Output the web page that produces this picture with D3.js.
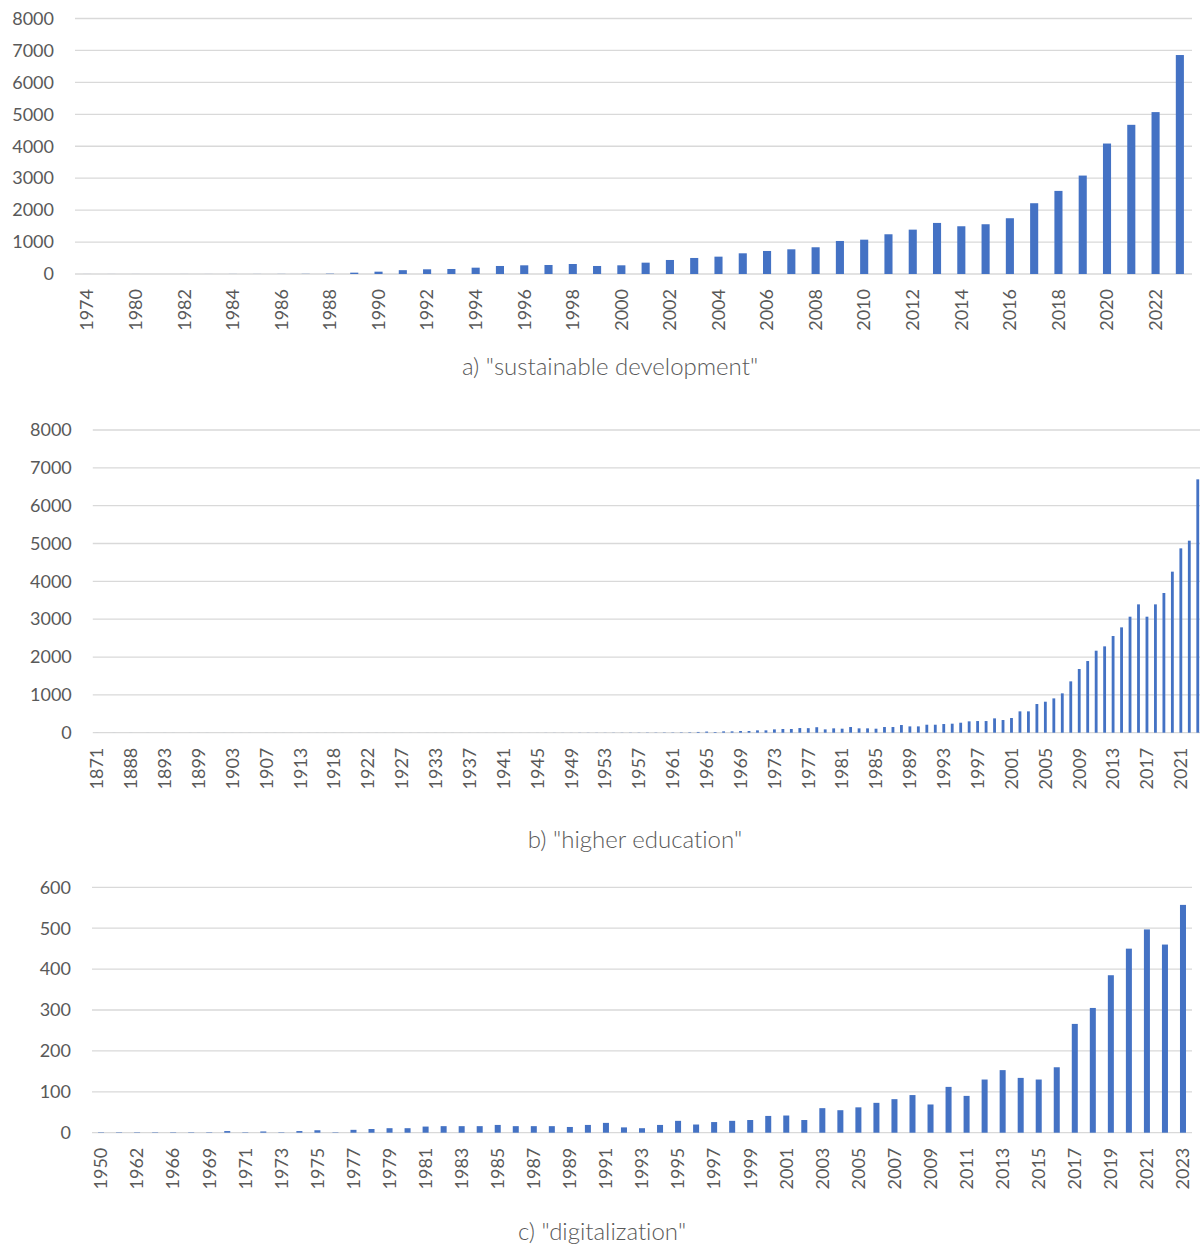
<!DOCTYPE html>
<html>
<head>
<meta charset="utf-8">
<script src="https://cdn.jsdelivr.net/npm/d3@7"></script>
<style>
	body { margin: 0; background: #fff; }
	text { font-family: Lato, 'Open Sans', sans-serif; fill: #595959; font-variant-ligatures: none; }
</style>
</head>
<body>
<div id="chart"></div>
<script>

// a) "sustainable development"
var yearsA = [1974, 1979, 1980, 1981, 1982, 1983, 1984, 1985, 1986, 1987, 1988, 1989,
	1990, 1991, 1992, 1993, 1994, 1995, 1996, 1997, 1998, 1999, 2000, 2001, 2002, 2003,
	2004, 2005, 2006, 2007, 2008, 2009, 2010, 2011, 2012, 2013, 2014, 2015, 2016, 2017,
	2018, 2019, 2020, 2021, 2022, 2023];
var countsA = [1, 1, 1, 0, 1, 1, 2, 2, 3, 5, 10, 42,
	73, 120, 147, 157, 198, 251, 272, 282, 313, 251, 272, 355, 439, 502,
	543, 648, 721, 773, 837, 1034, 1075, 1244, 1389, 1599, 1495, 1558, 1746, 2216,
	2602, 3082, 4085, 4671, 5069, 6856];

// b) "higher education"
var yearsB = [1871, 1876, 1880, 1884, 1888, 1889, 1890, 1892, 1893, 1895, 1896, 1898,
	1899, 1900, 1901, 1902, 1903, 1904, 1905, 1906, 1907, 1908, 1910, 1912, 1913, 1914,
	1915, 1917, 1918, 1919, 1920, 1921, 1922, 1923, 1924, 1926, 1927, 1928, 1930, 1932,
	1933, 1934, 1935, 1936, 1937, 1938, 1939, 1940, 1941, 1942, 1943, 1944, 1945, 1946,
	1947, 1948, 1949, 1950, 1951, 1952, 1953, 1954, 1955, 1956, 1957, 1958, 1959, 1960,
	1961, 1962, 1963, 1964, 1965, 1966, 1967, 1968, 1969, 1970, 1971, 1972, 1973, 1974,
	1975, 1976, 1977, 1978, 1979, 1980, 1981, 1982, 1983, 1984, 1985, 1986, 1987, 1988,
	1989, 1990, 1991, 1992, 1993, 1994, 1995, 1996, 1997, 1998, 1999, 2000, 2001, 2002,
	2003, 2004, 2005, 2006, 2007, 2008, 2009, 2010, 2011, 2012, 2013, 2014, 2015, 2016,
	2017, 2018, 2019, 2020, 2021, 2022, 2023];
var countsB = [1, 0, 1, 0, 1, 0, 1, 0, 1, 1, 0, 1,
	1, 1, 0, 1, 1, 1, 1, 0, 1, 1, 1, 1, 1, 1,
	1, 1, 1, 1, 1, 1, 1, 1, 1, 1, 1, 1, 1, 1,
	1, 1, 1, 1, 1, 1, 1, 1, 1, 1, 1, 1, 1, 2,
	2, 2, 2, 3, 3, 3, 3, 4, 4, 5, 5, 6, 6, 8,
	8, 10, 12, 20, 30, 18, 35, 35, 44, 44, 62, 62, 88, 98,
	98, 123, 120, 145, 88, 115, 106, 150, 115, 115, 106, 150, 150, 203,
	167, 167, 211, 211, 229, 238, 264, 300, 308, 308, 379, 335, 388, 564,
	564, 758, 819, 907, 1040, 1357, 1683, 1894, 2167, 2282, 2555, 2784, 3066, 3392,
	3066, 3392, 3692, 4256, 4872, 5075, 6696];

// c) "digitalization"
var yearsC = [1950, 1958, 1962, 1964, 1966, 1968, 1969, 1970, 1971, 1972, 1973, 1974,
	1975, 1976, 1977, 1978, 1979, 1980, 1981, 1982, 1983, 1984, 1985, 1986, 1987, 1988,
	1989, 1990, 1991, 1992, 1993, 1994, 1995, 1996, 1997, 1998, 1999, 2000, 2001, 2002,
	2003, 2004, 2005, 2006, 2007, 2008, 2009, 2010, 2011, 2012, 2013, 2014, 2015, 2016,
	2017, 2018, 2019, 2020, 2021, 2022, 2023];
var countsC = [1, 1, 1, 1, 1, 1, 1, 4, 1, 3, 1, 4,
	6, 1, 7, 9, 11, 11, 15, 16, 16, 16, 19, 16, 16, 16,
	14, 19, 24, 13, 11, 19, 29, 20, 26, 29, 31, 41, 42, 31,
	60, 55, 62, 73, 82, 92, 69, 112, 90, 130, 153, 134, 130, 160,
	266, 305, 385, 450, 497, 460, 557];

var ticksA = [0, 1000, 2000, 3000, 4000, 5000, 6000, 7000, 8000];
var ticksB = [0, 1000, 2000, 3000, 4000, 5000, 6000, 7000, 8000];
var ticksC = [0, 100, 200, 300, 400, 500, 600];

var svg = d3.select('#chart')
	.append('svg')
	.attr('width', 1200)
	.attr('height', 1245);

var drawPanel = function(p) {

	var x = d3.scaleBand()
		.domain(p.years)
		.range([p.left, p.right])
		.paddingInner(2 / 3)
		.paddingOuter(1 / 3);

	var y = d3.scaleLinear()
		.domain([0, p.yMax])
		.range([p.zero, p.top]);

	var g = svg.append('g');

	g.selectAll('.grid')
		.data(p.ticks)
		.enter()
		.append('line')
		.attr('class', 'grid')
		.attr('x1', p.left)
		.attr('x2', p.gridRight)
		.attr('y1', function(d) {return y(d)})
		.attr('y2', function(d) {return y(d)})
		.attr('stroke', '#d9d9d9')
		.attr('stroke-width', 1.3);

	g.selectAll('.ylab')
		.data(p.ticks)
		.enter()
		.append('text')
		.attr('class', 'ylab')
		.attr('x', p.left - 21)
		.attr('y', function(d) {return y(d)})
		.attr('dy', '.35em')
		.style('text-anchor', 'end')
		.style('font-size', '18px')
		.text(function(d) {return d});

	g.selectAll('rect')
		.data(p.counts)
		.enter()
		.append('rect')
		.attr('x', function(d, i) {return x(p.years[i])})
		.attr('y', function(d) {return y(d)})
		.attr('width', x.bandwidth())
		.attr('height', function(d) {return p.zero - y(d)})
		.attr('fill', '#4472c4');

	var xAxis = d3.axisBottom(x)
		.tickValues(p.years.filter(function(d, i) {return i % p.every === 0}))
		.tickSize(0)
		.tickPadding(0);

	var ax = g.append('g')
		.attr('transform', 'translate(0,' + p.zero + ')')
		.call(xAxis);

	ax.select('.domain').remove();

	ax.selectAll('text')
		.attr('transform', 'rotate(-90)')
		.attr('x', -15)
		.attr('y', 0)
		.attr('dy', '.35em')
		.style('text-anchor', 'end')
		.style('font-size', '18px')
		.style('font-family', 'Lato, sans-serif')
		.attr('fill', '#595959');

	g.append('text')
		.attr('x', p.titleX)
		.attr('y', p.titleY)
		.style('text-anchor', 'middle')
		.style('font-size', '24px')
		.style('font-weight', 300)
		.text(p.title);
};

drawPanel({years: yearsA, counts: countsA, ticks: ticksA, yMax: 8000,
	left: 75, right: 1192, gridRight: 1192, top: 18.5, zero: 274, every: 2,
	title: 'a) "sustainable development"', titleX: 610, titleY: 375});

drawPanel({years: yearsB, counts: countsB, ticks: ticksB, yMax: 8000,
	left: 92.8, right: 1202, gridRight: 1202, top: 430, zero: 732.7, every: 4,
	title: 'b) "higher education"', titleX: 635, titleY: 848});

drawPanel({years: yearsC, counts: countsC, ticks: ticksC, yMax: 600,
	left: 92, right: 1192, gridRight: 1192, top: 887.3, zero: 1132.7, every: 2,
	title: 'c) "digitalization"', titleX: 602, titleY: 1240});

</script>
</body>
</html>
